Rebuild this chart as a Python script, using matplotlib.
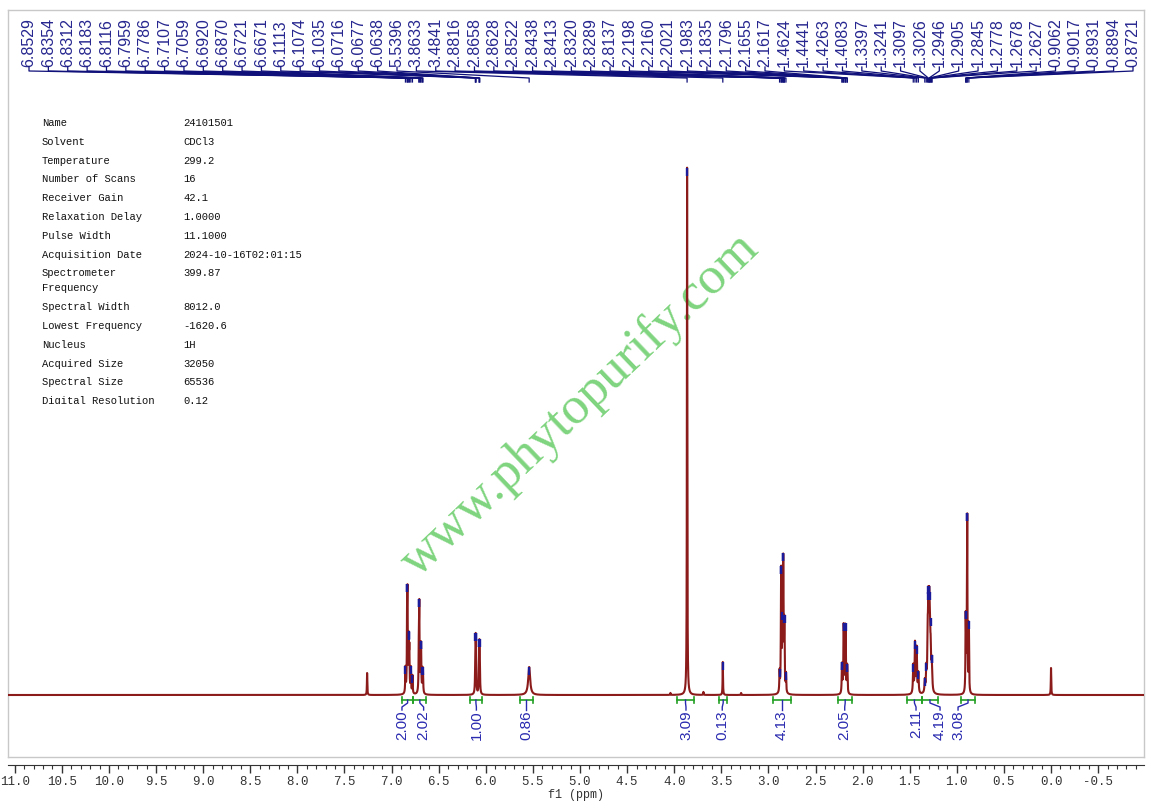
import numpy as np
import matplotlib
matplotlib.use("Agg")
import matplotlib.pyplot as plt
from matplotlib.ticker import MultipleLocator, FormatStrFormatter

# ---------------- data ----------------
pick_ppm = [6.8529, 6.8354, 6.8312, 6.8183, 6.8116, 6.7959, 6.7786,
            6.7107, 6.7059, 6.6920, 6.6870, 6.6721, 6.6671,
            6.1113, 6.1074, 6.1035, 6.0716, 6.0677, 6.0638,
            5.5396, 3.8633, 3.4841,
            2.8816, 2.8658, 2.8628, 2.8522, 2.8438, 2.8413, 2.8320, 2.8289, 2.8137,
            2.2198, 2.2160, 2.2021, 2.1983, 2.1835, 2.1796, 2.1655, 2.1617,
            1.4624, 1.4441, 1.4263, 1.4083,
            1.3397, 1.3241, 1.3097, 1.3026, 1.2946, 1.2905, 1.2845, 1.2778, 1.2678, 1.2627,
            0.9062, 0.9017, 0.8931, 0.8894, 0.8721]
pick_int = [25, 68, 82, 50, 40, 25, 18,
            45, 80, 35, 40, 20, 18,
            30, 40, 28, 27, 36, 25,
            28, 528, 33,
            20, 85, 66, 58, 80, 70, 45, 40, 18,
            22, 18, 50, 43, 50, 43, 20, 18,
            28, 50, 45, 20,
            12, 22, 48, 75, 55, 46, 40, 34, 22, 14,
            70, 25, 40, 162, 68]
pick_hwhm = [0.003] * 19 + [0.012] + [0.0025] * 2 + [0.003] * 17 + [0.0042] * 14 + [0.0028] * 5

other_ppm = [7.26, 4.04, 3.69, 3.29, 0.00]
other_int = [22, 2, 3, 2, 27]

int_values = ["2.00", "2.02", "1.00", "0.86", "3.09", "0.13", "4.13", "2.05", "2.11", "4.19", "3.08"]
int_from = [6.89, 6.77, 6.17, 5.64, 3.97, 3.52, 2.95, 2.26, 1.53, 1.37, 0.955]
int_to = [6.77, 6.63, 6.04, 5.50, 3.79, 3.44, 2.76, 2.11, 1.37, 1.20, 0.807]
int_label_at = [6.89, 6.66, 6.10, 5.57, 3.875, 3.49, 2.855, 2.19, 1.433, 1.178, 0.987]

param_names = ["Name", "Solvent", "Temperature", "Number of Scans", "Receiver Gain",
               "Relaxation Delay", "Pulse Width", "Acquisition Date",
               "Spectrometer\nFrequency", "Spectral Width", "Lowest Frequency",
               "Nucleus", "Acquired Size", "Spectral Size", "Digital Resolution"]
param_values = ["24101501", "CDCl3", "299.2", "16", "42.1", "1.0000", "11.1000",
                "2024-10-16T02:01:15", "399.87", "8012.0", "-1620.6", "1H",
                "32050", "65536", "0.12"]

# ---------------- figure ----------------
W, H, DPI = 1158, 806, 100
fig = plt.figure(figsize=(W / DPI, H / DPI), dpi=DPI)
fig.patch.set_facecolor("white")

def fx(px):
    return px / W

def fy(py):
    return 1 - py / H

XL, XR = 11.072, -0.987
ax = fig.add_axes([fx(8), fy(757), fx(1136), (757 - 10) / H])
ax.set_xlim(XL, XR)
ax.set_ylim(-62, 685)
ax.set_xticks([])
ax.set_yticks([])
for s in ax.spines.values():
    s.set_color("#c8c8c8")
    s.set_linewidth(1.0)

# spectrum
x = np.linspace(XL, XR, 60000)
y = np.zeros_like(x)
for p, h, g in zip(pick_ppm, pick_int, pick_hwhm):
    y += h * g * g / (g * g + (x - p) ** 2)
for p, h in zip(other_ppm, other_int):
    g = 0.0025
    y += h * g * g / (g * g + (x - p) ** 2)
ax.plot(x, y, color="#8b1a1a", lw=1.5, zorder=3, solid_joinstyle="round")

# blue peak-top markers
for p in pick_ppm:
    i = np.argmin(np.abs(x - p))
    top = y[max(0, i - 30):i + 30].max()
    ax.plot([p, p], [top, top - 8], color="#1c1c9a", lw=1.7, zorder=4,
            solid_capstyle="butt")

# peak labels with leader lines
n = len(pick_ppm)
lab_col = "#26268f"
for k, (p) in enumerate(pick_ppm):
    sx_px = 29 + k * (1133 - 29) / (n - 1)
    sx = XL + (sx_px - 8) / 1136 * (XR - XL)
    ax.text(sx, 628, f"{p:.4f}", rotation=90, ha="center", va="bottom",
            fontsize=11.5, family="Liberation Sans", color=lab_col, zorder=5)
    ax.plot([sx, sx, p, p], [628, 624, 617, 613], color="#10107a", lw=0.9,
            zorder=5, clip_on=False)

# integrals
for v, a, b, lp in zip(int_values, int_from, int_to, int_label_at):
    ax.plot([a, b], [-5, -5], color="#22a022", lw=1.2, zorder=4)
    for e in (a, b):
        ax.plot([e, e], [-2, -8], color="#22a022", lw=1.2, zorder=4)
    c = (a + b) / 2
    ax.plot([c, c, lp, lp], [-5, -8, -12, -15], color="#2a2ab0", lw=1.0, zorder=4)
    ax.text(lp, -15, v, rotation=90, ha="center", va="top", fontsize=11,
            family="Liberation Sans", color="#2a2ab0", zorder=5)

# watermark
ax.text(fx(580), fy(405), "www.phytopurify.com", transform=fig.transFigure,
        rotation=43.6, rotation_mode="anchor", ha="center", va="center",
        fontsize=38, family="Liberation Serif", color="#7fd47f", zorder=2)

# parameter table
tab = fig.add_axes([fx(30), fy(404), fx(300), (404 - 108) / H])
tab.axis("off")
row_y = 123
for name, val in zip(param_names, param_values):
    lines = name.split("\n")
    for j, ln in enumerate(lines):
        tab.text(fx(42), fy(row_y + j * 15), ln, transform=fig.transFigure,
                 ha="left", va="center", fontsize=7.6, family="Liberation Mono",
                 color="#111111", clip_on=True)
    tab.text(fx(183), fy(row_y), val, transform=fig.transFigure, ha="left",
             va="center", fontsize=7.6, family="Liberation Mono",
             color="#111111", clip_on=True)
    row_y += 18.8 + 15 * (len(lines) - 1)

# ruler axis
rx = fig.add_axes([fx(8), fy(765), fx(1136), 1 / H])
rx.set_xlim(XL, XR)
rx.set_yticks([])
for sname in ("top", "left", "right"):
    rx.spines[sname].set_visible(False)
rx.spines["bottom"].set_color("#333333")
rx.patch.set_alpha(0)
rx.xaxis.set_major_locator(MultipleLocator(0.5))
rx.xaxis.set_minor_locator(MultipleLocator(0.1))
rx.xaxis.set_major_formatter(FormatStrFormatter("%.1f"))
rx.tick_params(axis="x", which="major", length=6, width=1, direction="out",
               pad=2, labelsize=9, colors="#333333")
rx.tick_params(axis="x", which="minor", length=3, width=0.8, direction="out",
               colors="#333333")
for t in rx.get_xticklabels():
    t.set_family("Liberation Mono")
fig.text(fx(576), fy(795), "f1 (ppm)", ha="center", va="center",
         fontsize=8.5, family="Liberation Mono", color="#333333")

fig.savefig("out.png", dpi=DPI)
